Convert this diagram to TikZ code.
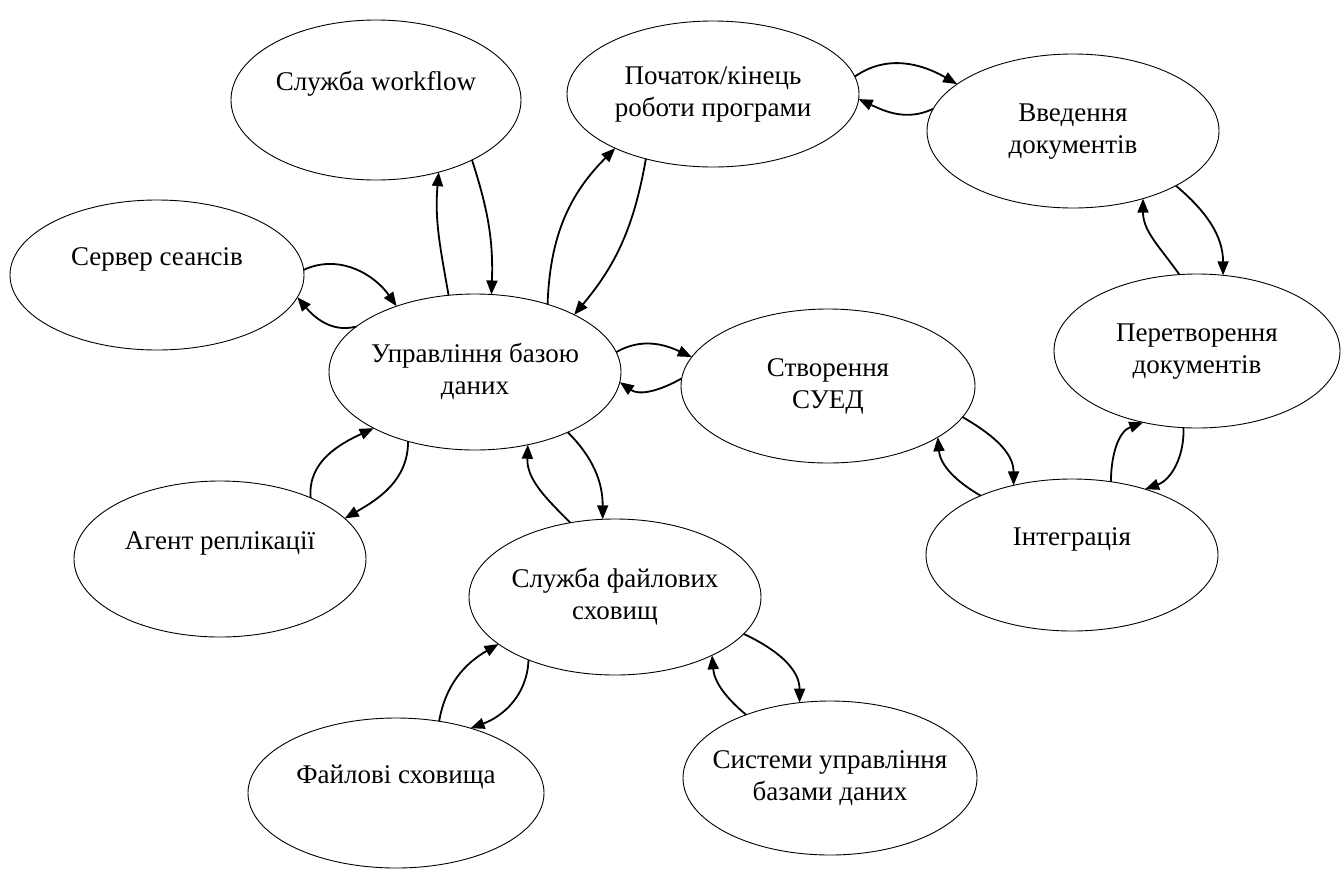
\documentclass[tikz,border=0pt]{standalone}
\usepackage{fontspec}
\setmainfont{Liberation Serif}
\usetikzlibrary{shapes.geometric,arrows.meta}

% zero-width centred block of lines, so the label never widens its ellipse
\newcommand{\ctext}[1]{\makebox[0pt]{\begin{tabular}{@{}c@{}}#1\end{tabular}}}

\begin{document}
\begin{tikzpicture}[x=1pt,y=-1pt,
  bub/.style args={#1/#2}{draw, ellipse, line width=0.9pt, inner sep=0pt,
    outer sep=0pt, minimum width=#1pt, minimum height=#2pt,
    font=\fontsize{27}{32}\selectfont},
  link/.style={line width=1.8pt, -{Triangle[length=14pt,width=11pt]}}]

\fill[white] (0,0) rectangle (1341,868);
\useasboundingbox (0,0) rectangle (1341,868);

% modules
\node[bub=290/160] (wf)  at (376,100)  {\ctext{Служба workflow\\\mbox{}}};
\node[bub=292/146] (st)  at (713,94)   {\ctext{Початок/кінець\\роботи програми}};
\node[bub=292/154] (vv)  at (1073,131) {\ctext{Введення\\документів}};
\node[bub=294/150] (srv) at (157,275)  {\ctext{Сервер сеансів\\\mbox{}}};
\node[bub=292/156] (db)  at (475,372)  {\ctext{Управління базою\\даних}};
\node[bub=294/154] (cr)  at (828,386)  {\ctext{Створення\\СУЕД}};
\node[bub=286/154] (pt)  at (1197,351) {\ctext{Перетворення\\документів}};
\node[bub=292/156] (ag)  at (220,559)  {\ctext{Агент реплікації\\\mbox{}}};
\node[bub=292/152] (in)  at (1072,555) {\ctext{Інтеграція\\\mbox{}}};
\node[bub=292/156] (fs)  at (615,597)  {\ctext{Служба файлових\\сховищ}};
\node[bub=296/150] (fl)  at (396,793)  {\ctext{Файлові сховища\\\mbox{}}};
\node[bub=294/154] (sy)  at (830,778)  {\ctext{Системи управління\\базами даних}};

% two-way links
\draw[link] (srv.2) to[out=25,in=125] (db.140);
\draw[link] (db.159) to[out=195,in=-50] (srv.-9);

\draw[link] (db.109) to[out=100,in=265] (wf.-49);
\draw[link] (wf.-32) to[out=-72,in=88] (db.78);

\draw[link] (db.43) to[out=88,in=225] (st.209);
\draw[link] (st.224) to[out=-100,in=50] (db.30);

\draw[link] (st.7) to[out=35,in=150] (vv.158);
\draw[link] (vv.171) to[out=205,in=-25] (st.-2);

\draw[link] (pt.103) to[out=125,in=270] (vv.-44);
\draw[link] (vv.-28) to[out=-40,in=90] (pt.71);

\draw[link] (db.8) to[out=30,in=155] (cr.168);
\draw[link] (cr.177) to[out=210,in=-35] (db.-4);

\draw[link] (ag.34) to[out=95,in=205] (db.209);
\draw[link] (db.226) to[out=-90,in=30] (ag.18);

\draw[link] (fs.121) to[out=135,in=268] (db.-54);
\draw[link] (db.-33) to[out=-45,in=90] (fs.99);

\draw[link] (in.147) to[out=150,in=275] (cr.-25);
\draw[link] (cr.-13) to[out=-30,in=90] (in.130);

\draw[link] (in.62) to[out=90,in=200] (pt.233);
\draw[link] (pt.-100) to[out=-88,in=20] (in.42);

\draw[link] (fl.59) to[out=80,in=210] (fs.202);
\draw[link] (fs.216) to[out=-92,in=20] (fl.41);

\draw[link] (sy.143) to[out=140,in=275] (fs.-31);
\draw[link] (fs.-16) to[out=-25,in=90] (sy.112);
\end{tikzpicture}
\end{document}
